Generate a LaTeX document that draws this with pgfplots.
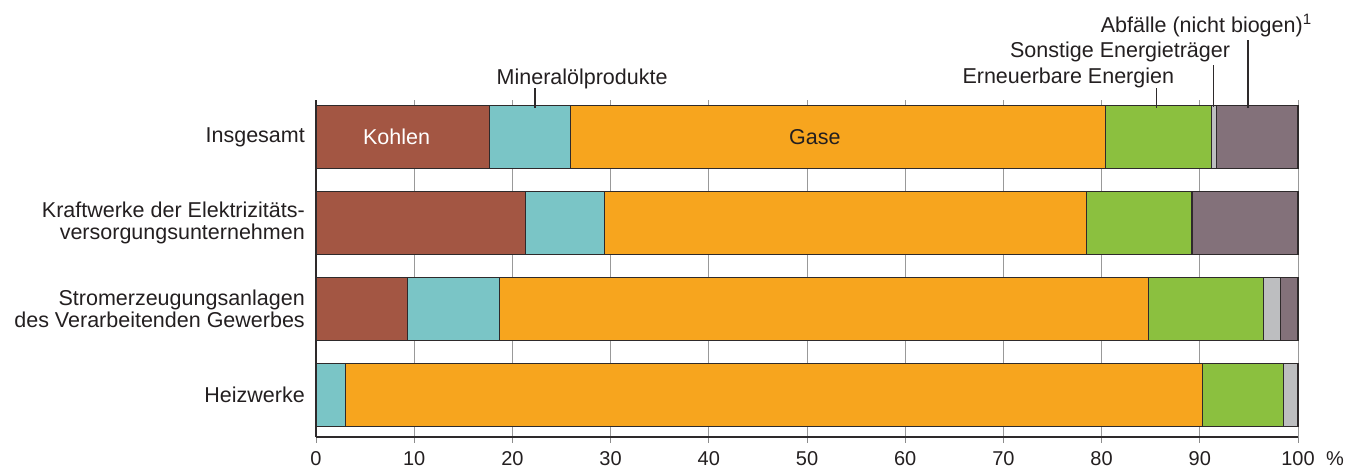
\documentclass[border=0pt]{standalone}
\usepackage{pgfplots}
\pgfplotsset{compat=1.18}
\usepackage{pgfplotstable}
\usepackage{fontspec}
\setmainfont{Liberation Sans}

\definecolor{kohlen}{HTML}{A35643}
\definecolor{oel}{HTML}{7AC5C6}
\definecolor{gase}{HTML}{F7A51E}
\definecolor{ee}{HTML}{8BC03F}
\definecolor{sonst}{HTML}{BDBEC0}
\definecolor{abf}{HTML}{83717A}
\definecolor{txt}{HTML}{231F20}
\definecolor{randlinie}{HTML}{2E2A2B}

% Anteile in % je Anlagenart (y: 3 = Insgesamt ... 0 = Heizwerke)
\pgfplotstableread{
y kohle oel  gas  ee   sonst abf
3 17.7  8.2  54.5 10.8 0.5   8.3
2 21.3  8.1  49.1 10.7 0.0   10.8
1 9.3   9.4  66.1 11.7 1.7   1.8
0 0.0   3.0  87.3 8.2  1.5   0.0
}\anteile

\begin{document}
\begin{tikzpicture}
  \begin{axis}[
    at={(316bp,31bp)}, anchor=south west,
    scale only axis,
    width=982bp, height=337bp,
    xbar stacked,
    bar width=63bp,
    xmin=0, xmax=100,
    ymin=-0.49, ymax=3.43,
    axis x line*=bottom,
    axis y line*=left,
    axis line style={-, randlinie, line width=1.3bp},
    xmajorgrids,
    grid style={black!40, line width=1bp},
    xtick={0,10,...,100},
    xticklabels={0,10,20,30,40,50,60,70,80,90,100},
    xtick pos=bottom,
    tick align=outside,
    major tick length=6bp,
    x tick style={black!45, line width=1bp},
    ytick={0,1,2,3},
    yticklabels={Heizwerke,
      {Stromerzeugungsanlagen\\des Verarbeitenden Gewerbes},
      {Kraftwerke der Elektrizitäts-\\versorgungsunternehmen},
      Insgesamt},
    y tick style={draw=none},
    yticklabel style={align=right, font=\fontsize{21.5bp}{22.5bp}\selectfont, text=txt, inner sep=0pt, xshift=-5bp},
    xticklabel style={font=\fontsize{20bp}{21bp}\selectfont, text=txt, inner sep=0pt, yshift=-8bp},
    clip=false,
  ]
    \addplot[fill=kohlen, draw=randlinie, line width=1.1bp] table[x=kohle, y=y] {\anteile};
    \addplot[fill=oel,    draw=randlinie, line width=1.1bp] table[x=oel,   y=y] {\anteile};
    \addplot[fill=gase,   draw=randlinie, line width=1.1bp] table[x=gas,   y=y] {\anteile};
    \addplot[fill=ee,     draw=randlinie, line width=1.1bp] table[x=ee,    y=y] {\anteile};
    \addplot[fill=sonst,  draw=randlinie, line width=1.1bp] table[x=sonst, y=y] {\anteile};
    \addplot[fill=abf,    draw=randlinie, line width=1.1bp] table[x=abf,   y=y] {\anteile};

    % Ankerpunkte fuer Beschriftungen
    \coordinate (kohlen) at (axis cs:8.2,3);
    \coordinate (gase)   at (axis cs:50.8,3);
    \coordinate (oelT)   at (axis cs:27.1,3.614);
    \coordinate (eeT)    at (axis cs:87.4,3.626);
    \coordinate (sonstT) at (axis cs:93.1,3.928);
    \coordinate (abfT)   at (axis cs:79.9,4.219);
    \coordinate (proz)   at (axis cs:100,-0.49);
    \coordinate (oelA) at (axis cs:22.3,3.567);  \coordinate (oelB) at (axis cs:22.3,3.335);
    \coordinate (eeA)  at (axis cs:85.6,3.567);  \coordinate (eeB)  at (axis cs:85.6,3.335);
    \coordinate (soA)  at (axis cs:91.4,3.835);  \coordinate (soB)  at (axis cs:91.4,3.347);
    \coordinate (abA)  at (axis cs:94.9,4.126);  \coordinate (abB)  at (axis cs:94.9,3.335);
  \end{axis}

  \begin{scope}[every node/.style={font=\fontsize{21.5bp}{22.5bp}\selectfont, text=txt, inner sep=0pt}]
    \node[text=white] at (kohlen) {Kohlen};
    \node at (gase) {Gase};
    \node[anchor=base] at (oelT) {Mineralölprodukte};
    \node[anchor=base east] at (eeT) {Erneuerbare Energien};
    \node[anchor=base east] at (sonstT) {Sonstige Energieträger};
    \node[anchor=base west] at (abfT) {Abfälle (nicht biogen)\textsuperscript{1}};
    \node[font=\fontsize{20bp}{21bp}\selectfont, anchor=north west, xshift=28bp, yshift=-14bp] at (proz) {\%};
  \end{scope}
  \draw[randlinie, line width=1.2bp] (oelA) -- (oelB);
  \draw[randlinie, line width=1.2bp] (eeA) -- (eeB);
  \draw[randlinie, line width=1.2bp] (soA) -- (soB);
  \draw[randlinie, line width=1.2bp] (abA) -- (abB);

  \pgfresetboundingbox
  \path[use as bounding box] (0,0) rectangle (1347bp,468bp);
\end{tikzpicture}
\end{document}
